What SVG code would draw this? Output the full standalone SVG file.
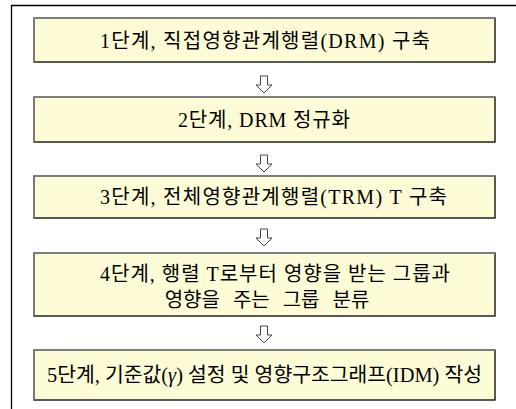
<svg xmlns="http://www.w3.org/2000/svg" width="516" height="409" viewBox="0 0 516 409">
<defs>
<style>
.box{fill:#fefcd6;stroke:#000;stroke-width:1.3}
.hl{fill:none;stroke:#8a8a8a;stroke-width:1.3}
.t{font-family:"Liberation Serif","Noto Sans CJK KR",serif;font-size:20px;fill:#000}
.arr{fill:#fff;stroke:#444;stroke-width:1}
.frame{fill:none;stroke:#000;stroke-width:1.3}
</style>
<path id="dn" class="arr" d="M-3.5,0 H3.5 V9 H8 L0,17 L-8,9 H-3.5 Z"/>
</defs>
<path class="frame" d="M11.5,409 V5.5 H516"/>
<g id="connectors">
<use href="#dn" x="264" y="76"/>
<use href="#dn" x="264" y="155"/>
<use href="#dn" x="264" y="229"/>
<use href="#dn" x="264" y="326"/>
</g>
<g id="step1">
<rect class="box" x="34" y="18" width="461" height="44"/>
<path class="hl" d="M34,62 V18 H495"/>
<text class="t" x="100" y="48" textLength="330" lengthAdjust="spacing">1단계, 직접영향관계행렬(DRM) 구축</text>
</g>
<g id="step2">
<rect class="box" x="34" y="97" width="461" height="45"/>
<path class="hl" d="M34,142 V97 H495"/>
<text class="t" x="178" y="127" textLength="172" lengthAdjust="spacing">2단계, DRM 정규화</text>
</g>
<g id="step3">
<rect class="box" x="34" y="176" width="461" height="42"/>
<path class="hl" d="M34,218 V176 H495"/>
<text class="t" x="100" y="204" textLength="347" lengthAdjust="spacing">3단계, 전체영향관계행렬(TRM) T 구축</text>
</g>
<g id="step4">
<rect class="box" x="34" y="253" width="461" height="63"/>
<path class="hl" d="M34,316 V253 H495"/>
<text class="t" x="100" y="281" textLength="350" lengthAdjust="spacing">4단계, 행렬 T로부터 영향을 받는 그룹과</text>
<text class="t" x="267" y="307" text-anchor="middle" word-spacing="8">영향을 주는 그룹 분류</text>
</g>
<g id="step5">
<rect class="box" x="34" y="350" width="461" height="50"/>
<path class="hl" d="M34,400 V350 H495"/>
<text class="t" x="47" y="382" textLength="435" lengthAdjust="spacingAndGlyphs">5단계, 기준값(<tspan font-style="italic">γ</tspan>) 설정 및 영향구조그래프(IDM) 작성</text>
</g>
</svg>
